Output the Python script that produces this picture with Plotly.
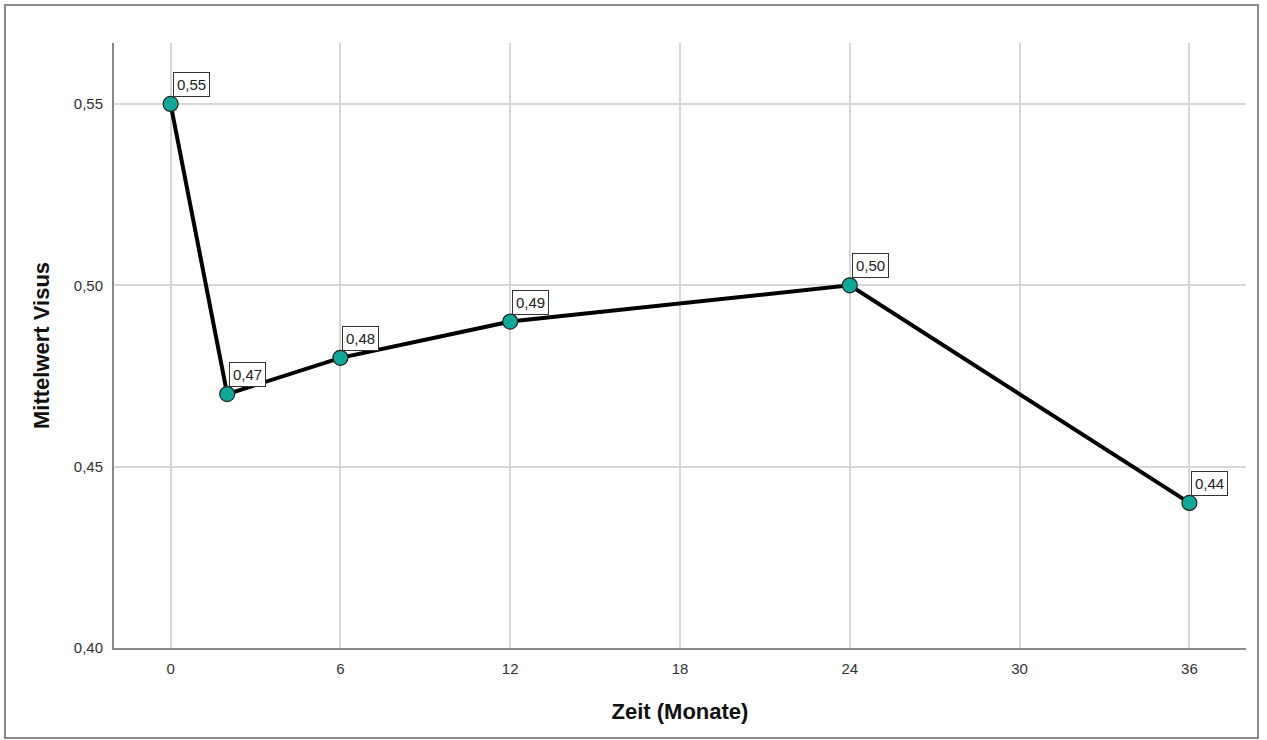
import plotly.graph_objects as go

months = [0, 2, 6, 12, 24, 36]
visus = [0.55, 0.47, 0.48, 0.49, 0.50, 0.44]
labels = ["0,55", "0,47", "0,48", "0,49", "0,50", "0,44"]
x_ticks = [0, 6, 12, 18, 24, 30, 36]
y_ticks = [0.40, 0.45, 0.50, 0.55]
y_tick_labels = ["0,40", "0,45", "0,50", "0,55"]

fig = go.Figure()
fig.add_trace(go.Scatter(
    x=months, y=visus, mode="lines+markers",
    line=dict(color="black", width=4),
    marker=dict(size=15, color="#12a898", line=dict(color="#222", width=1.2)),
    hoverinfo="x+y", showlegend=False,
))

for xv, yv, lab in zip(months, visus, labels):
    fig.add_annotation(
        x=xv, y=yv, text=lab, showarrow=False,
        xanchor="left", yanchor="bottom", xshift=2, yshift=7,
        font=dict(family="Liberation Sans, Arial", size=15, color="#222"),
        bgcolor="white", bordercolor="#333", borderwidth=1, borderpad=3,
    )

fig.add_shape(type="rect", xref="paper", yref="paper",
              x0=-0.0963, x1=1.0106, y0=-0.1488, y1=1.0628,
              line=dict(color="#8a8a8a", width=2), layer="below")

fig.update_layout(
    width=1267, height=740,
    margin=dict(l=114, r=21, t=43, b=92),
    paper_bgcolor="white", plot_bgcolor="white",
    separators=",.",
    font=dict(family="Liberation Sans, Arial", size=15, color="#333"),
    xaxis=dict(
        range=[-2, 38], tickvals=x_ticks, ticktext=[str(v) for v in x_ticks],
        showgrid=True, gridcolor="#d8d8d8", gridwidth=1.5,
        showline=True, linecolor="#888", linewidth=2, zeroline=False,
        ticks="", ticklabelstandoff=6,
        title=dict(text="<b>Zeit (Monate)</b>", font=dict(size=22, color="#111"), standoff=28),
    ),
    yaxis=dict(
        range=[0.40, 0.5668], tickvals=y_ticks, ticktext=y_tick_labels,
        showgrid=True, gridcolor="#d8d8d8", gridwidth=1.5,
        showline=True, linecolor="#888", linewidth=2, zeroline=False,
        ticks="", ticklabelstandoff=6,
        title=dict(text="<b>Mittelwert Visus</b>", font=dict(size=22, color="#111"), standoff=18),
    ),
)

fig.write_html("out.html", config={"displayModeBar": False},
               post_script="document.body.style.margin='0';document.body.style.overflow='hidden';")
